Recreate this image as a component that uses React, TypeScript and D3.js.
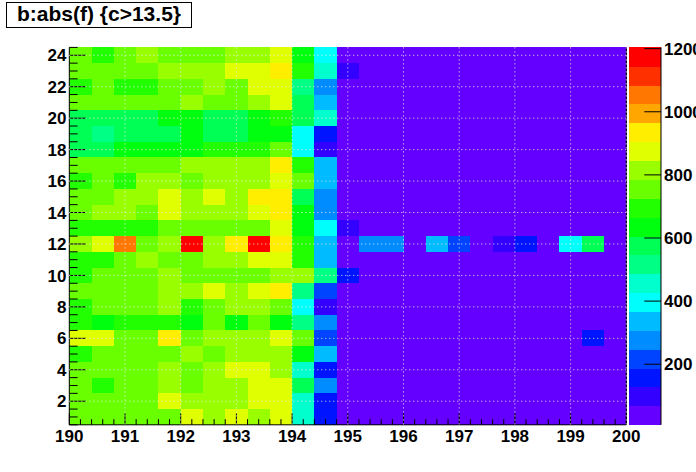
import React from 'react';
import * as d3 from 'd3';

// histogram: b vs abs(f), cut c>13.5
const title = 'b:abs(f) {c>13.5}';

const xLow = 190;
const xHigh = 200;
const nBinsX = 25;

// y bins are centred on integers, rows below go from y=24 (top) down to y=1
const yRows = [24, 23, 22, 21, 20, 19, 18, 17, 16, 15, 14, 13, 12, 11, 10, 9, 8, 7, 6, 5, 4, 3, 2, 1];

const counts: number[][] = [
  [752, 702, 748, 812, 760, 744, 768, 805, 820, 880, 650, 390, 41, 34, 29, 31, 27, 33, 30, 26, 35, 28, 32, 30, 27],
  [760, 748, 756, 742, 808, 818, 802, 872, 884, 940, 700, 460, 95, 31, 36, 28, 30, 25, 34, 29, 27, 33, 30, 26, 31],
  [704, 756, 699, 710, 762, 750, 812, 770, 868, 878, 520, 280, 36, 29, 33, 27, 31, 35, 26, 30, 28, 32, 29, 34, 30],
  [758, 745, 750, 762, 740, 822, 766, 752, 810, 872, 580, 340, 33, 30, 27, 35, 29, 31, 33, 25, 30, 28, 34, 27, 29],
  [582, 574, 580, 586, 640, 644, 578, 570, 632, 690, 588, 462, 38, 32, 30, 26, 34, 28, 31, 29, 27, 35, 30, 33, 28],
  [578, 520, 584, 572, 570, 642, 576, 580, 638, 634, 400, 160, 30, 27, 34, 31, 28, 30, 26, 33, 29, 31, 27, 30, 32],
  [586, 572, 628, 640, 636, 645, 694, 700, 702, 744, 402, 100, 34, 29, 31, 28, 33, 27, 30, 32, 26, 29, 31, 28, 30],
  [755, 748, 760, 752, 746, 808, 816, 822, 812, 938, 698, 332, 37, 33, 28, 30, 27, 34, 29, 31, 30, 26, 33, 29, 27],
  [702, 758, 696, 814, 820, 752, 806, 818, 810, 878, 760, 342, 35, 30, 32, 29, 31, 26, 33, 28, 30, 34, 27, 31, 29],
  [750, 758, 812, 806, 880, 818, 870, 816, 942, 930, 574, 274, 32, 28, 30, 33, 26, 31, 29, 30, 34, 27, 29, 32, 30],
  [762, 812, 820, 748, 874, 808, 818, 814, 876, 936, 640, 280, 29, 31, 27, 30, 32, 28, 34, 29, 26, 31, 30, 28, 33],
  [694, 700, 690, 706, 758, 750, 762, 746, 754, 870, 632, 404, 96, 32, 29, 34, 28, 30, 27, 33, 31, 29, 30, 26, 28],
  [812, 878, 1058, 756, 818, 1204, 816, 940, 1180, 932, 698, 338, 40, 276, 282, 30, 336, 218, 33, 102, 158, 29, 398, 578, 26],
  [698, 704, 760, 812, 752, 748, 810, 820, 872, 880, 702, 344, 36, 29, 31, 27, 33, 30, 28, 32, 26, 30, 29, 31, 34],
  [700, 754, 748, 762, 806, 756, 744, 752, 760, 812, 818, 518, 156, 30, 28, 33, 29, 31, 27, 30, 34, 28, 31, 29, 26],
  [758, 750, 762, 748, 812, 818, 878, 808, 874, 940, 522, 214, 38, 31, 27, 30, 34, 29, 32, 26, 30, 33, 28, 30, 31],
  [706, 752, 760, 748, 810, 696, 754, 806, 812, 756, 396, 98, 31, 28, 33, 29, 30, 27, 31, 34, 29, 26, 32, 30, 28],
  [694, 638, 702, 698, 706, 640, 758, 636, 750, 642, 512, 278, 35, 30, 29, 32, 27, 33, 28, 30, 31, 29, 27, 34, 30],
  [876, 870, 756, 748, 938, 760, 814, 808, 820, 872, 750, 220, 33, 29, 31, 28, 30, 26, 34, 29, 30, 27, 31, 158, 29],
  [700, 756, 750, 762, 744, 810, 752, 816, 822, 808, 636, 336, 34, 30, 27, 31, 29, 33, 28, 30, 26, 32, 29, 31, 30],
  [752, 760, 746, 754, 812, 758, 816, 874, 880, 810, 458, 160, 30, 33, 28, 30, 31, 27, 29, 34, 30, 28, 32, 26, 31],
  [756, 698, 752, 748, 814, 760, 806, 818, 872, 878, 578, 276, 37, 28, 32, 29, 26, 31, 30, 28, 33, 30, 27, 29, 32],
  [748, 754, 760, 750, 874, 812, 818, 808, 870, 882, 454, 156, 32, 30, 29, 34, 28, 30, 31, 27, 29, 33, 30, 28, 27],
  [754, 746, 758, 762, 750, 878, 812, 870, 816, 876, 460, 154, 28, 31, 30, 27, 33, 29, 26, 30, 32, 28, 31, 29, 30],
];

const xTicks = [190, 191, 192, 193, 194, 195, 196, 197, 198, 199, 200];
const yTicks = [2, 4, 6, 8, 10, 12, 14, 16, 18, 20, 22, 24];
const zTicks = [200, 400, 600, 800, 1000, 1200];
const zMin = 8;
const zMax = 1204;
const nContours = 20;

const W = 696;
const H = 472;
const frame = { left: 69.3, right: 626.3, top: 47.4, bottom: 424.8 };
const pal = { left: 629, right: 661 };
const font = "'Liberation Sans', Arial, Helvetica, sans-serif";

// ROOT "pretty" palette: 50 colours, hue 280 -> 0
const prettyColor = (i: number) =>
  i >= 49 ? '#ff0000' : d3.hsl(280 - (i + 1) * 5.6, 1, 0.5).formatHex();
const contourColor = (k: number) => prettyColor(Math.floor(((k + 0.99) * 50) / nContours));

export default function App() {
  const x = d3.scaleLinear().domain([xLow, xHigh]).range([frame.left, frame.right]);
  const y = d3.scaleLinear().domain([0.5, 24.5]).range([frame.bottom, frame.top]);
  const z = d3.scaleLinear().domain([zMin, zMax]).range([frame.bottom, frame.top]);
  const dz = (zMax - zMin) / nContours;
  const band = (v: number) => Math.max(0, Math.min(nContours - 1, Math.floor((v - zMin) / dz)));
  const bw = (xHigh - xLow) / nBinsX;

  const xMinor = d3.range(xLow, xHigh + 1e-6, 0.2);
  const yMinor = d3.range(0.5, 24.5 + 1e-6, 0.5);
  const tickX = 0.03 * (frame.bottom - frame.top);
  const tickY = 0.03 * (frame.right - frame.left);

  const cells: React.ReactNode[] = [];
  counts.forEach((row, r) => {
    const yc = yRows[r];
    row.forEach((v, c) => {
      const x0 = x(xLow + c * bw);
      const x1 = x(xLow + (c + 1) * bw);
      cells.push(
        <rect
          key={`${r}-${c}`}
          x={x0}
          y={y(yc + 0.5)}
          width={x1 - x0 + 0.4}
          height={y(yc - 0.5) - y(yc + 0.5) + 0.4}
          fill={contourColor(band(v))}
        />
      );
    });
  });

  const grid = '#ececec';

  return (
    <svg width={W} height={H} style={{ position: 'absolute', left: 0, top: 0, background: '#fff' }}>
      <g shapeRendering="crispEdges">{cells}</g>

      {/* palette */}
      <g shapeRendering="crispEdges">
        {d3.range(nContours).map((k) => (
          <rect
            key={k}
            x={pal.left}
            width={pal.right - pal.left}
            y={z(zMin + (k + 1) * dz)}
            height={z(zMin + k * dz) - z(zMin + (k + 1) * dz) + 0.4}
            fill={contourColor(k)}
          />
        ))}
      </g>
      <line x1={pal.right} x2={pal.right} y1={frame.top} y2={frame.bottom} stroke="#000" />
      {zTicks.map((t) => (
        <g key={t}>
          <line x1={pal.right - tickY} x2={pal.right} y1={z(t)} y2={z(t)} stroke="#000" />
          <text x={pal.right + 3} y={z(t)} dy="0.36em" fontFamily={font} fontWeight="bold" fontSize={17}>
            {t}
          </text>
        </g>
      ))}

      {/* frame / axes */}
      <line x1={frame.left} x2={frame.left} y1={frame.top} y2={frame.bottom} stroke="#000" />
      <line x1={frame.left} x2={frame.right} y1={frame.bottom} y2={frame.bottom} stroke="#000" />
      <line x1={frame.right} x2={frame.right} y1={frame.top} y2={frame.bottom} stroke="#000" />

      {xMinor.map((t, i) => {
        const major = Math.abs(t - Math.round(t)) < 1e-6;
        return (
          <line
            key={i}
            x1={x(t)}
            x2={x(t)}
            y1={frame.bottom}
            y2={frame.bottom - (major ? tickX : tickX / 2)}
            stroke="#000"
          />
        );
      })}
      {yMinor.map((t, i) => {
        const major = yTicks.includes(t);
        return (
          <line
            key={i}
            x1={frame.left}
            x2={frame.left + (major ? tickY : tickY / 2)}
            y1={y(t)}
            y2={y(t)}
            stroke="#000"
          />
        );
      })}

      {/* grid */}
      <g stroke={grid} strokeDasharray="1 3" strokeWidth={1}>
        {xTicks.slice(1).map((t) => (
          <line key={t} x1={x(t)} x2={x(t)} y1={frame.top} y2={frame.bottom} />
        ))}
        {yTicks.map((t) => (
          <line key={t} x1={frame.left} x2={frame.right} y1={y(t)} y2={y(t)} />
        ))}
      </g>

      {xTicks.map((t) => (
        <text
          key={t}
          x={x(t)}
          y={442}
          textAnchor="middle"
          fontFamily={font}
          fontWeight="bold"
          fontSize={17}
        >
          {t}
        </text>
      ))}
      {yTicks.map((t) => (
        <text
          key={t}
          x={66.5}
          y={y(t)}
          dy="0.36em"
          textAnchor="end"
          fontFamily={font}
          fontWeight="bold"
          fontSize={17}
        >
          {t}
        </text>
      ))}

      {/* title box */}
      <rect x={6.5} y={2.5} width={185} height={25} fill="#fff" stroke="#000" />
      <text x={99} y={21} textAnchor="middle" fontFamily={font} fontWeight="bold" fontSize={21}>
        {title}
      </text>
    </svg>
  );
}
